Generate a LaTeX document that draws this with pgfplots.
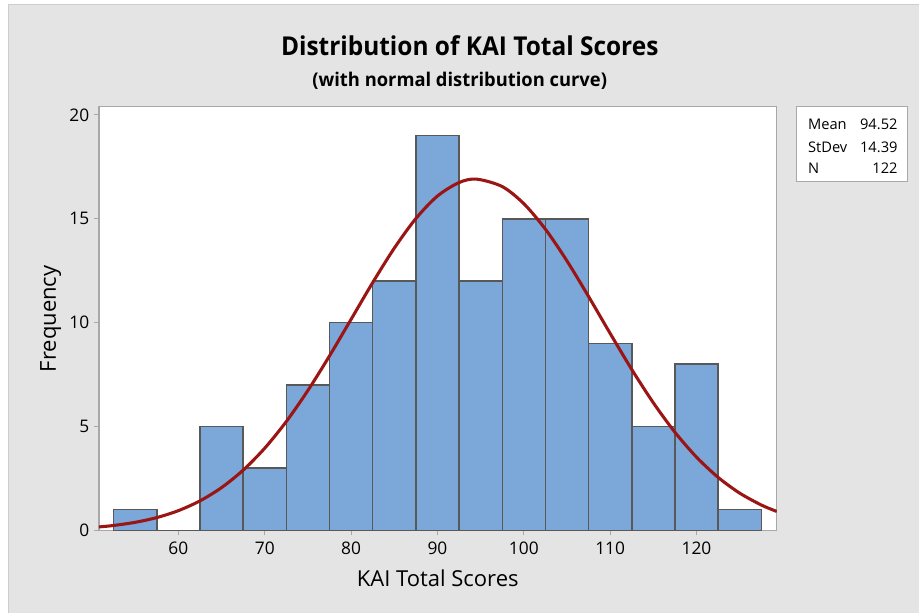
\documentclass[border=0pt]{standalone}
\usepackage{pgfplots}
\pgfplotsset{compat=1.18}
\usepackage{fontspec}
\setmainfont{Open Sans}
\definecolor{bgray}{HTML}{E4E4E4}
\definecolor{bordgray}{HTML}{CDCDCD}
\definecolor{axgray}{HTML}{A8A8A8}
\definecolor{barblue}{HTML}{7BA7D9}
\definecolor{barline}{HTML}{585858}
\definecolor{curvered}{HTML}{9B1515}
\begin{document}
\begin{tikzpicture}
% page 919x613 px, 1px = 0.75pt
\fill[white] (0,0) rectangle (689.25pt,459.75pt);
\fill[bgray] (6.75pt,0) rectangle (689.25pt,456pt);
\draw[bordgray,line width=0.75pt] (6.75pt,0) -- (6.75pt,456pt) -- (689.25pt,456pt);
\begin{axis}[
  at={(74.25pt,61.725pt)}, anchor=south west,
  scale only axis, width=508.7pt, height=318pt,
  xmin=50.8, xmax=129.3, ymin=0, ymax=20.4,
  xtick={60,70,...,120}, ytick={0,5,...,20},
  xtick pos=left, ytick pos=left,
  tick align=outside, major tick length=3.75pt,
  tick style={axgray, line width=0.75pt},
  axis line style={axgray, line width=0.9pt},
  axis background/.style={fill=white},
  /pgf/number format/assume math mode=true,
  ticklabel style={font=\fontsize{13}{15}\selectfont},
  xticklabel style={yshift=-1pt},
]
\addplot[ybar interval, fill=barblue, draw=barline, line width=1.1pt] coordinates {
(52.5,1) (57.5,0) (62.5,5) (67.5,3) (72.5,7) (77.5,10) (82.5,12) (87.5,19)
(92.5,12) (97.5,15) (102.5,15) (107.5,9) (112.5,5) (117.5,8) (122.5,1) (127.5,1)};
\addplot[smooth, curvered, line width=2.3pt] coordinates {
(50.8,0.1675) (52.5,0.2380) (55,0.3893) (57.5,0.6180) (60,0.9518) (62.5,1.4222)
(65,2.0623) (67.5,2.9013) (70,3.9597) (72.5,5.2441) (75,6.7395) (77.5,8.4024)
(80,10.164) (82.5,11.931) (85,13.587) (87.5,15.014) (90,16.097) (92.5,16.745)
(94.52,16.911) (97.5,16.552) (100,15.728) (102.5,14.501) (105,12.971)
(107.5,11.259) (110,9.4813) (112.5,7.7475) (115,6.1426) (117.5,4.7253)
(120,3.5264) (122.5,2.5536) (125,1.7943) (127.5,1.2233) (129.3,0.9113)};
\end{axis}
% titles
\node[anchor=base, inner sep=0pt] at (352.5pt,417.75pt) {\scalebox{0.94}[1]{\fontsize{19.5}{24}\selectfont\bfseries Distribution of KAI Total Scores}};
\node[anchor=base, inner sep=0pt] at (345pt,394.9pt) {\scalebox{0.97}[1]{\fontsize{14.2}{17}\selectfont\bfseries (with normal distribution curve)}};
% axis labels
\node[anchor=base, font=\fontsize{16.5}{19}\selectfont] at (328.5pt,19.5pt) {KAI Total Scores};
\node[anchor=base, rotate=90, font=\fontsize{16.5}{19}\selectfont] at (42pt,220.5pt) {Frequency};
% stats box
\draw[fill=white, draw=axgray, line width=0.75pt] (598pt,323.5pt) rectangle (681.2pt,379.75pt);
\begin{scope}[every node/.style={font=\fontsize{11}{13}\selectfont, inner sep=0pt}]
\node[anchor=base west] at (606.2pt,362.25pt) {Mean};
\node[anchor=base west] at (606.2pt,345.5pt) {StDev};
\node[anchor=base west] at (606.2pt,329.75pt) {N};
\node[anchor=base east] at (673.7pt,362.25pt) {94.52};
\node[anchor=base east] at (673.7pt,345.5pt) {14.39};
\node[anchor=base east] at (673.7pt,329.75pt) {122};
\end{scope}
\end{tikzpicture}
\end{document}
